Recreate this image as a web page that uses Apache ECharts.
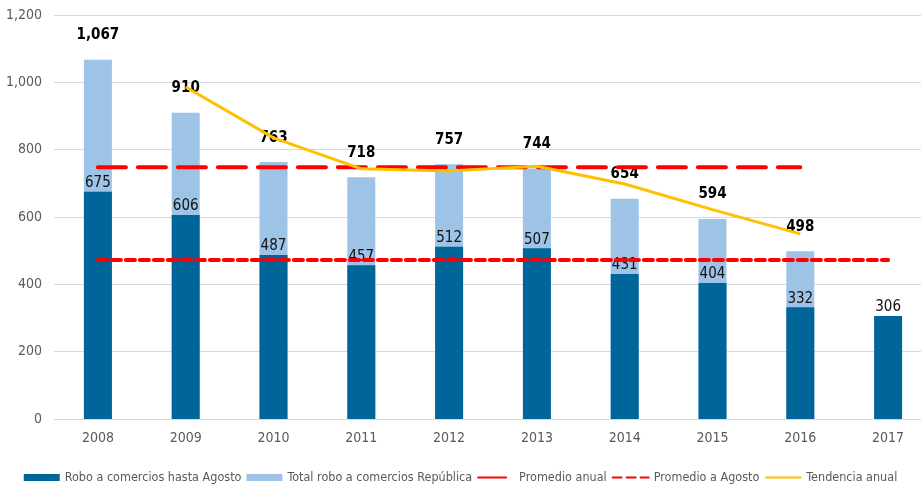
<!DOCTYPE html>
<html>
<head>
<meta charset="utf-8">
<script src="https://cdn.jsdelivr.net/npm/echarts@6/dist/echarts.min.js"></script>
<style>
  html, body { margin: 0; padding: 0; background: #fff; }
  #chart { width: 921px; height: 488px; }
</style>
</head>
<body>
<div id="chart"></div>
<script>
const years = ["2008", "2009", "2010", "2011", "2012", "2013", "2014", "2015", "2016", "2017"];
const hastaAgosto = [675, 606, 487, 457, 512, 507, 431, 404, 332, 306];
const totalRepublica = [1067, 910, 763, 718, 757, 744, 654, 594, 498, null];
const promedioAnual = [748, 748, 748, 748, 748, 748, 748, 748, 748, null];
const promedioAgosto = [472, 472, 472, 472, 472, 472, 472, 472, 472, 472];
const tendencia = [null, 986, 835, 743, 737, 751, 698, 622, 550, null];

const FONT = '"DejaVu Sans Condensed", "Liberation Sans Narrow", sans-serif';

const chart = echarts.init(document.getElementById("chart"));

const hideDot = { opacity: 0 };

const option = {
  animation: false,
  textStyle: { fontFamily: FONT },
  grid: { left: 54, width: 878, top: 15, bottom: 69, outerBoundsMode: "none", containLabel: false },
  legend: {
    bottom: 4,
    left: "center",
    padding: 0,
    itemWidth: 36,
    itemHeight: 7,
    itemGap: 5,
    textStyle: { fontFamily: FONT, fontSize: 12.5, color: "#595959" },
    data: [
      { name: "Robo a comercios hasta Agosto", icon: "rect" },
      { name: "Total robo a comercios República", icon: "rect" },
      { name: "Promedio anual", itemStyle: hideDot },
      { name: "Promedio a Agosto", itemStyle: hideDot },
      { name: "Tendencia anual", itemStyle: hideDot },
    ],
  },
  xAxis: {
    type: "category",
    data: years,
    axisLine: { lineStyle: { color: "#d9d9d9" } },
    axisTick: { show: false },
    axisLabel: { color: "#595959", fontSize: 14, fontFamily: FONT, margin: 12 },
  },
  yAxis: {
    type: "value",
    min: 0,
    max: 1200,
    interval: 200,
    axisLine: { show: false },
    axisTick: { show: false },
    splitLine: { lineStyle: { color: "#d9d9d9" } },
    axisLabel: {
      color: "#595959",
      fontSize: 14,
      fontFamily: FONT,
      margin: 12,
      formatter: (v) => v.toLocaleString("en-US"),
    },
  },
  series: [
    {
      name: "Total robo a comercios República",
      type: "bar",
      data: totalRepublica,
      barWidth: 28,
      z: 1,
      itemStyle: { color: "#9dc3e6" },
      label: {
        show: true,
        position: "top",
        distance: 17,
        color: "#000",
        fontWeight: "bold",
        fontSize: 15,
        fontFamily: FONT,
        formatter: (p) => p.value.toLocaleString("en-US"),
      },
    },
    {
      name: "Robo a comercios hasta Agosto",
      type: "bar",
      data: hastaAgosto,
      barWidth: 28,
      barGap: "-100%",
      z: 2,
      itemStyle: { color: "#006699" },
      label: {
        show: true,
        position: "top",
        distance: 1,
        color: "#111",
        fontSize: 15,
        fontFamily: FONT,
      },
    },
    {
      name: "Promedio anual",
      type: "line",
      data: promedioAnual,
      symbol: "none",
      z: 3,
      lineStyle: { color: "#ff0000", width: 4, type: [28, 12], cap: "round" },
      itemStyle: { color: "#ff0000" },
    },
    {
      name: "Promedio a Agosto",
      type: "line",
      data: promedioAgosto,
      symbol: "none",
      z: 3,
      lineStyle: { color: "#ff0000", width: 4, type: [9, 5], cap: "round" },
      itemStyle: { color: "#ff0000" },
    },
    {
      name: "Tendencia anual",
      type: "line",
      data: tendencia,
      symbol: "none",
      z: 4,
      lineStyle: { color: "#ffc000", width: 3 },
      itemStyle: { color: "#ffc000" },
    },
  ],
};

chart.setOption(option);
</script>
</body>
</html>
